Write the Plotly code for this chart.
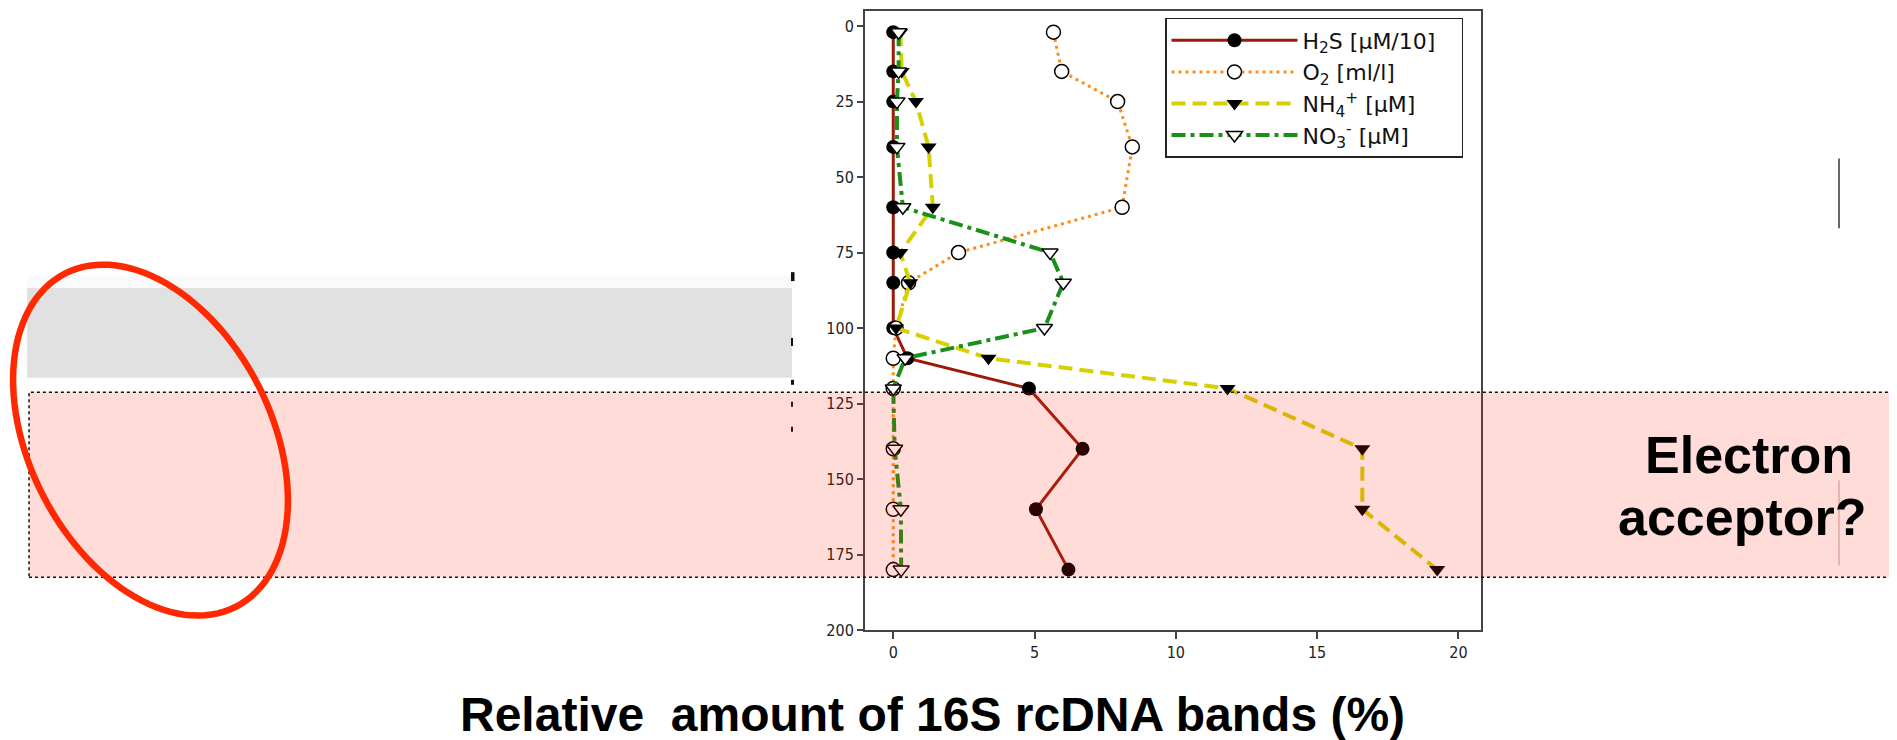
import numpy as np
import plotly.graph_objects as go

# ---------------- data ----------------
depth = [2, 15, 25, 40, 60, 75, 85, 100, 110, 120, 140, 160, 180]
h2s = [0, 0, 0, 0, 0, 0, 0, 0, 0.5, 4.8, 6.7, 5.05, 6.2]
o2 = [5.67, 5.96, 7.94, 8.46, 8.1, 2.31, 0.54, 0.1, 0, 0, 0, 0, 0]
nh4 = [0.25, 0.3, 0.8, 1.25, 1.4, 0.25, 0.6, 0.1, 3.37, 11.83, 16.6, 16.6, 19.25]
no3 = [0.19, 0.19, 0.13, 0.13, 0.34, 5.55, 6.02, 5.35, 0.42, 0.0, 0.05, 0.27, 0.28]

names = ["H<sub>2</sub>S [μM/10]", "O<sub>2</sub> [ml/l]",
         "NH<sub>4</sub><sup>+</sup> [μM]", "NO<sub>3</sub><sup>-</sup> [μM]"]
x_ticks = [0, 5, 10, 15, 20]
y_ticks = [0, 25, 50, 75, 100, 125, 150, 175, 200]
x_title = "Relative\u00a0 amount of 16S rcDNA bands (%)"
side_text = ["Electron", "acceptor?"]

# ---------------- layout geometry (page pixels) ----------------
PAGE_W, PAGE_H = 1897, 740
OFF = 8                      # default body margin of the html page
W, H = PAGE_W - OFF, PAGE_H - OFF
L, R, T, B = 865, 1481, 9, 630   # plot area in page pixels


def px(xp):
    return (xp - L) / (R - L)


def py(yp):
    return (B - yp) / (B - T)


PADNAME = "\u00a0" * 3   # widen the legend box a little

fig = go.Figure()
fig.add_trace(go.Scatter(
    x=h2s, y=depth, name=names[0] + PADNAME, mode="lines+markers",
    line=dict(color="#9b1b0b", width=3),
    marker=dict(symbol="circle", size=14, color="black")))
fig.add_trace(go.Scatter(
    x=o2, y=depth, name=names[1] + PADNAME, mode="lines+markers",
    line=dict(color="#ff8c1a", width=3, dash="3px,4px"),
    marker=dict(symbol="circle", size=14, color="white",
                line=dict(color="black", width=1.5))))
fig.add_trace(go.Scatter(
    x=nh4, y=depth, name=names[2] + PADNAME, mode="lines+markers",
    line=dict(color="#d6d000", width=4, dash="14px,7px"),
    marker=dict(symbol="triangle-down", size=14, color="black")))
fig.add_trace(go.Scatter(
    x=no3, y=depth, name=names[3] + PADNAME, mode="lines+markers",
    line=dict(color="#1a8f1a", width=4, dash="14px,5px,4px,5px"),
    marker=dict(symbol="triangle-down", size=14, color="white",
                line=dict(color="black", width=1.5))))

tickfont = dict(family="Liberation Sans Narrow, DejaVu Sans Condensed, Arial Narrow, sans-serif",
                size=16, color="#222")

shapes = []
# gray band (left)
shapes.append(dict(type="rect", xref="paper", yref="paper", layer="below",
                   x0=px(27), x1=px(792), y0=py(274), y1=py(287),
                   fillcolor="#fafafa", line=dict(width=0)))
shapes.append(dict(type="rect", xref="paper", yref="paper", layer="below",
                   x0=px(27), x1=px(792), y0=py(287), y1=py(377),
                   fillcolor="#e1e1e1", line=dict(width=0)))
# small dark specks at the right edge of the gray band
for (y0, y1, w) in [(271, 280, 3.5), (337, 345, 2), (379, 384, 3), (401, 406, 2), (426, 431, 2)]:
    shapes.append(dict(type="rect", xref="paper", yref="paper", layer="above",
                       x0=px(791), x1=px(791 + w), y0=py(y1), y1=py(y0),
                       fillcolor="#111", line=dict(width=0)))
# faint vertical lines on the right
shapes.append(dict(type="line", xref="paper", yref="paper", layer="above",
                   x0=px(1839), x1=px(1839), y0=py(157), y1=py(227),
                   line=dict(color="#666", width=2)))
shapes.append(dict(type="line", xref="paper", yref="paper", layer="above",
                   x0=px(1839), x1=px(1839), y0=py(480), y1=py(565),
                   line=dict(color="#d8c0bc", width=1.5)))
# pink translucent box with dotted border
shapes.append(dict(type="rect", xref="paper", yref="paper", layer="above",
                   x0=px(29), x1=px(1892), y0=py(577), y1=py(391.5),
                   fillcolor="rgba(255,40,12,0.16)",
                   line=dict(color="#111", width=1.5, dash="dot")))
# red tilted ellipse
cx, cy, a, b, th = 150.5, 439.5, 187.7, 121.0, np.deg2rad(27.0)
t = np.linspace(0, 2 * np.pi, 121)
ex = cx + a * np.cos(t) * np.sin(th) + b * np.sin(t) * np.cos(th)
ey = cy + a * np.cos(t) * np.cos(th) - b * np.sin(t) * np.sin(th)
path = "M " + " L ".join(f"{px(u):.5f},{py(v):.5f}" for u, v in zip(ex, ey)) + " Z"
shapes.append(dict(type="path", xref="paper", yref="paper", layer="above",
                   path=path, line=dict(color="#ff2800", width=6.5)))

annotations = [
    dict(text=x_title, xref="paper", yref="paper", x=px(932), y=py(715),
         xanchor="center", yanchor="middle", showarrow=False,
         font=dict(family="Liberation Sans, Arial, sans-serif", size=48, color="black", weight="bold")),
    dict(text=side_text[0], xref="paper", yref="paper", x=px(1749), y=py(454),
         xanchor="center", yanchor="middle", showarrow=False,
         font=dict(family="Liberation Sans, Arial, sans-serif", size=52, color="black", weight="bold")),
    dict(text=side_text[1], xref="paper", yref="paper", x=px(1742), y=py(517),
         xanchor="center", yanchor="middle", showarrow=False,
         font=dict(family="Liberation Sans, Arial, sans-serif", size=52, color="black", weight="bold")),
]

fig.update_layout(
    width=W, height=H, autosize=False,
    margin=dict(l=L - OFF, r=PAGE_W - R, t=T - OFF, b=PAGE_H - B, pad=0),
    paper_bgcolor="white", plot_bgcolor="white",
    showlegend=True,
    legend=dict(x=px(1165), y=py(16), xanchor="left", yanchor="top",
                bgcolor="white", bordercolor="#222", borderwidth=1.5,
                itemwidth=126, tracegroupgap=0,
                font=dict(family="DejaVu Sans, Liberation Sans, sans-serif", size=22, color="#111")),
    xaxis=dict(range=[-1, 20.8], tickvals=x_ticks, ticktext=[str(v) for v in x_ticks],
               showgrid=False, zeroline=False, showline=True, mirror=True,
               linecolor="#444", linewidth=2, ticks="outside", ticklen=7,
               tickcolor="#444", tickwidth=1.5, tickfont=tickfont),
    yaxis=dict(range=[200, -5], tickvals=y_ticks, ticktext=[str(v) for v in y_ticks],
               showgrid=False, zeroline=False, showline=True, mirror=True,
               linecolor="#444", linewidth=2, ticks="outside", ticklen=6,
               tickcolor="#444", tickwidth=1.5, tickfont=tickfont),
    shapes=shapes,
    annotations=annotations,
)

fig.write_html("out.html")
